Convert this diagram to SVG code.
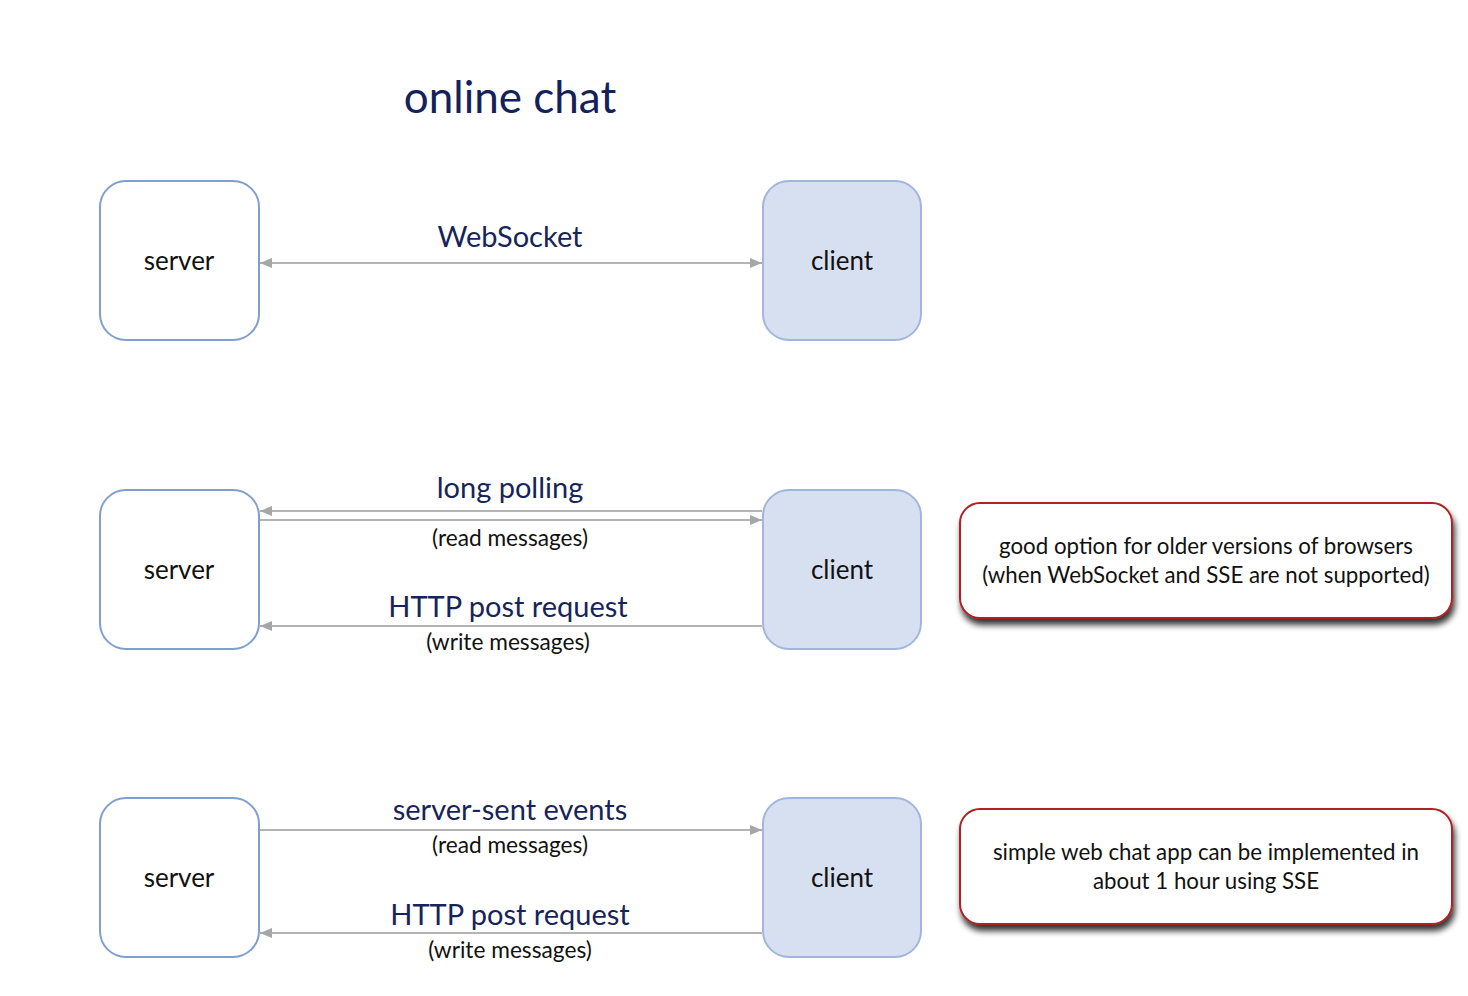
<svg xmlns="http://www.w3.org/2000/svg" width="1468" height="996" viewBox="0 0 1468 996">
<defs>
<style>
.srv{fill:#ffffff;stroke:#7f9fd0;stroke-width:2}
.cli{fill:#d7e0f1;stroke:#a2b5dd;stroke-width:2}
.node{font-family:Lato,"Open Sans",sans-serif;font-size:26px;fill:#111111;text-anchor:middle}
.lbl{font-family:Lato,"Open Sans",sans-serif;font-size:29px;fill:#17245a;text-anchor:middle}
.sub{font-family:Lato,"Open Sans",sans-serif;font-size:22.7px;fill:#111111;text-anchor:middle}
.note{fill:#ffffff;stroke:#b02222;stroke-width:2}
.ntxt{font-family:Lato,"Open Sans",sans-serif;font-size:22.3px;fill:#111111;text-anchor:middle}
.ln{stroke:#b3b3b3;stroke-width:2;fill:none}
.title{font-family:Lato,"Open Sans",sans-serif;font-size:44px;fill:#14215a;text-anchor:middle}
</style>
<marker id="ah" viewBox="0 0 12 10" refX="12" refY="5" markerWidth="12" markerHeight="10" markerUnits="userSpaceOnUse" orient="auto-start-reverse">
<path d="M0,0 L12,5 L0,10 z" fill="#a6a6a6"/>
</marker>
<filter id="sh" x="-10%" y="-20%" width="120%" height="150%">
<feGaussianBlur in="SourceAlpha" stdDeviation="3"/>
<feOffset dx="2" dy="6" result="b"/>
<feComponentTransfer><feFuncA type="linear" slope="0.8"/></feComponentTransfer>
<feMerge><feMergeNode/><feMergeNode in="SourceGraphic"/></feMerge>
</filter>
</defs>
<rect width="1468" height="996" fill="#ffffff"/>
<text class="title" x="510" y="113">online chat</text>

<g id="connectors">
<line class="ln" x1="260" y1="263" x2="762" y2="263" marker-start="url(#ah)" marker-end="url(#ah)"/>
<line class="ln" x1="762" y1="511" x2="260" y2="511" marker-end="url(#ah)"/>
<line class="ln" x1="260" y1="520" x2="762" y2="520" marker-end="url(#ah)"/>
<line class="ln" x1="762" y1="626" x2="260" y2="626" marker-end="url(#ah)"/>
<line class="ln" x1="260" y1="830" x2="762" y2="830" marker-end="url(#ah)"/>
<line class="ln" x1="762" y1="933" x2="260" y2="933" marker-end="url(#ah)"/>
<text class="lbl" x="510" y="247">WebSocket</text>
<text class="lbl" x="510" y="498">long polling</text>
<text class="sub" x="510" y="546">(read messages)</text>
<text class="lbl" x="508" y="617">HTTP post request</text>
<text class="sub" x="508" y="650">(write messages)</text>
<text class="lbl" x="510" y="820">server-sent events</text>
<text class="sub" x="510" y="853">(read messages)</text>
<text class="lbl" x="510" y="925">HTTP post request</text>
<text class="sub" x="510" y="958">(write messages)</text>
</g>

<g id="server1"><rect class="srv" x="100" y="181" width="159" height="159" rx="26"/><text class="node" x="179" y="270">server</text></g>
<g id="client1"><rect class="cli" x="763" y="181" width="158" height="159" rx="26"/><text class="node" x="842" y="270">client</text></g>
<g id="server2"><rect class="srv" x="100" y="490" width="159" height="159" rx="26"/><text class="node" x="179" y="579">server</text></g>
<g id="client2"><rect class="cli" x="763" y="490" width="158" height="159" rx="26"/><text class="node" x="842" y="579">client</text></g>
<g id="server3"><rect class="srv" x="100" y="798" width="159" height="159" rx="26"/><text class="node" x="179" y="887">server</text></g>
<g id="client3"><rect class="cli" x="763" y="798" width="158" height="159" rx="26"/><text class="node" x="842" y="887">client</text></g>

<g id="note1"><rect class="note" x="960" y="503" width="492" height="115" rx="20" filter="url(#sh)"/>
<text class="ntxt" x="1206" y="554">good option for older versions of browsers</text>
<text class="ntxt" x="1206" y="583">(when WebSocket and SSE are not supported)</text></g>
<g id="note2"><rect class="note" x="960" y="809" width="492" height="115" rx="20" filter="url(#sh)"/>
<text class="ntxt" x="1206" y="860">simple web chat app can be implemented in</text>
<text class="ntxt" x="1206" y="889">about 1 hour using SSE</text></g>
</svg>
